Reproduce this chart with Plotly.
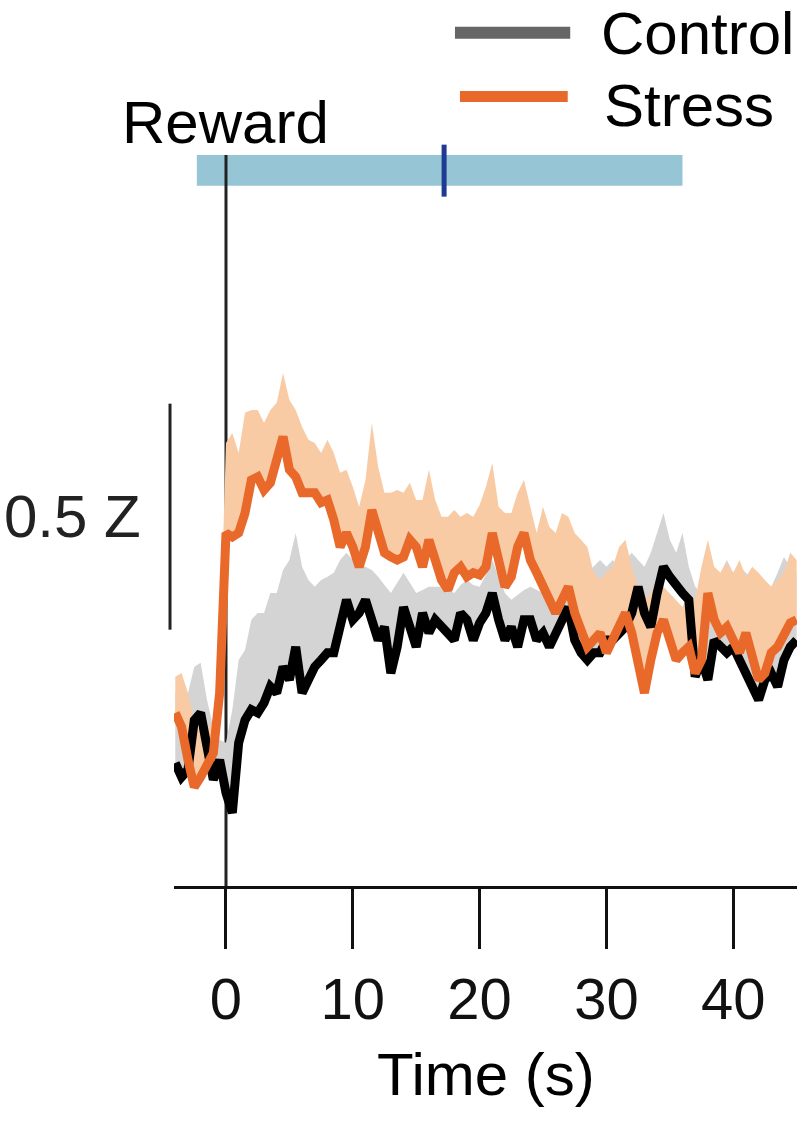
import plotly.graph_objects as go

# ---- data (Z-scored photometry signal) ----
time_s = [-4 + 0.5 * i for i in range(99)]

stress_mean = [0.104, 0.073, 0.000, -0.060, -0.038, -0.015, 0.015, 0.148, 0.502, 0.493,
               0.502, 0.546, 0.619, 0.626, 0.597, 0.613, 0.664, 0.715, 0.642, 0.626,
               0.591, 0.591, 0.591, 0.569, 0.575, 0.531, 0.471, 0.502, 0.471, 0.427,
               0.471, 0.553, 0.502, 0.458, 0.449, 0.442, 0.449, 0.487, 0.471, 0.427,
               0.487, 0.442, 0.398, 0.376, 0.414, 0.427, 0.405, 0.414, 0.409, 0.427,
               0.502, 0.442, 0.383, 0.405, 0.471, 0.502, 0.442, 0.414, 0.383, 0.354,
               0.325, 0.354, 0.383, 0.325, 0.281, 0.250, 0.265, 0.281, 0.237, 0.265,
               0.294, 0.325, 0.281, 0.221, 0.148, 0.221, 0.281, 0.310, 0.259, 0.221,
               0.237, 0.250, 0.192, 0.221, 0.369, 0.310, 0.281, 0.294, 0.265, 0.237,
               0.281, 0.221, 0.177, 0.192, 0.237, 0.250, 0.272, 0.303, 0.310]

stress_upper = [0.184, 0.192, 0.148, 0.088, 0.060, 0.066, 0.088, 0.221, 0.701, 0.723,
                0.679, 0.768, 0.774, 0.774, 0.746, 0.774, 0.790, 0.856, 0.796, 0.774,
                0.737, 0.708, 0.701, 0.679, 0.708, 0.679, 0.635, 0.642, 0.604, 0.560,
                0.619, 0.746, 0.648, 0.591, 0.591, 0.597, 0.591, 0.613, 0.575, 0.575,
                0.642, 0.575, 0.538, 0.538, 0.553, 0.538, 0.546, 0.538, 0.564, 0.604,
                0.657, 0.560, 0.546, 0.546, 0.591, 0.619, 0.560, 0.502, 0.560, 0.515,
                0.502, 0.546, 0.538, 0.502, 0.487, 0.471, 0.414, 0.398, 0.414, 0.427,
                0.471, 0.487, 0.427, 0.383, 0.354, 0.369, 0.398, 0.383, 0.369, 0.354,
                0.338, 0.369, 0.354, 0.427, 0.487, 0.427, 0.414, 0.436, 0.414, 0.442,
                0.405, 0.427, 0.414, 0.398, 0.383, 0.398, 0.414, 0.458, 0.442]

control_mean = [-0.007, -0.038, -0.022, 0.088, 0.104, 0.015, -0.044, 0.000, -0.073, -0.117,
                0.038, 0.088, 0.111, 0.104, 0.126, 0.162, 0.148, 0.206, 0.177, 0.250,
                0.148, 0.177, 0.206, 0.221, 0.237, 0.237, 0.294, 0.354, 0.310, 0.325,
                0.354, 0.310, 0.265, 0.294, 0.192, 0.250, 0.338, 0.294, 0.250, 0.325,
                0.281, 0.310, 0.294, 0.281, 0.265, 0.325, 0.310, 0.265, 0.303, 0.325,
                0.369, 0.310, 0.265, 0.294, 0.250, 0.310, 0.310, 0.265, 0.281, 0.250,
                0.281, 0.310, 0.338, 0.265, 0.237, 0.221, 0.237, 0.237, 0.265, 0.265,
                0.281, 0.294, 0.325, 0.383, 0.325, 0.294, 0.369, 0.427, 0.405, 0.383,
                0.369, 0.354, 0.184, 0.221, 0.177, 0.265, 0.250, 0.237, 0.250, 0.221,
                0.192, 0.162, 0.133, 0.177, 0.192, 0.162, 0.221, 0.250, 0.265]

control_upper = [0.148, 0.148, 0.148, 0.206, 0.215, 0.133, 0.073, 0.044, 0.038, 0.111,
                 0.221, 0.243, 0.310, 0.325, 0.325, 0.369, 0.369, 0.420, 0.442, 0.502,
                 0.427, 0.398, 0.383, 0.398, 0.405, 0.414, 0.442, 0.458, 0.442, 0.431,
                 0.427, 0.420, 0.405, 0.387, 0.369, 0.392, 0.414, 0.392, 0.369, 0.376,
                 0.383, 0.383, 0.383, 0.376, 0.369, 0.387, 0.398, 0.387, 0.383, 0.409,
                 0.442, 0.405, 0.369, 0.354, 0.365, 0.376, 0.383, 0.376, 0.369, 0.365,
                 0.369, 0.392, 0.414, 0.387, 0.369, 0.414, 0.427, 0.442, 0.427, 0.442,
                 0.427, 0.442, 0.458, 0.442, 0.427, 0.458, 0.502, 0.546, 0.487, 0.458,
                 0.502, 0.427, 0.383, 0.369, 0.354, 0.369, 0.414, 0.442, 0.414, 0.427,
                 0.414, 0.398, 0.414, 0.383, 0.383, 0.414, 0.449, 0.427, 0.414]

x_ticks = [0, 10, 20, 30, 40]
x_range = [-4.1, 45.03]
y_range = [-0.279, 1.681]

reward_time = 0
cue_window = [-2.3, 36.0]      # light-blue bar
cue_marker = 17.2             # dark-blue tick on the bar
bar_y = [1.270, 1.338]
scale_bar = [0.288, 0.788]    # 0.5 Z

FONT = "Liberation Sans, Arial, Helvetica, sans-serif"
FS = 60
ORANGE = "#E8692A"
LIGHT_ORANGE = "#F9CBA5"
GRAY_FILL = "#D4D4D4"

fig = go.Figure()
# shaded SEM (upper side only)
fig.add_trace(go.Scatter(x=time_s, y=control_mean, mode="lines", line=dict(width=0),
                         showlegend=False, hoverinfo="skip"))
fig.add_trace(go.Scatter(x=time_s, y=control_upper, mode="lines", line=dict(width=0),
                         fill="tonexty", fillcolor=GRAY_FILL, showlegend=False, hoverinfo="skip"))
fig.add_trace(go.Scatter(x=time_s, y=stress_mean, mode="lines", line=dict(width=0),
                         showlegend=False, hoverinfo="skip"))
fig.add_trace(go.Scatter(x=time_s, y=stress_upper, mode="lines", line=dict(width=0),
                         fill="tonexty", fillcolor=LIGHT_ORANGE, showlegend=False, hoverinfo="skip"))
# means
fig.add_trace(go.Scatter(x=time_s, y=control_mean, mode="lines", name="Control",
                         line=dict(color="black", width=9), showlegend=False))
fig.add_trace(go.Scatter(x=time_s, y=stress_mean, mode="lines", name="Stress",
                         line=dict(color=ORANGE, width=9), showlegend=False))

shapes = [
    dict(type="rect", xref="x", yref="y", x0=cue_window[0], x1=cue_window[1],
         y0=bar_y[0], y1=bar_y[1], fillcolor="#96C6D6", line=dict(width=0), layer="below"),
    dict(type="line", xref="x", yref="y", x0=reward_time, x1=reward_time,
         y0=y_range[0], y1=bar_y[1], line=dict(color="#222222", width=3), layer="below"),
    dict(type="line", xref="x", yref="y", x0=cue_marker, x1=cue_marker,
         y0=bar_y[0] - 0.024, y1=bar_y[1] + 0.023, line=dict(color="#1F3A93", width=5)),
    dict(type="line", xref="paper", yref="y", x0=-0.0064, x1=-0.0064,
         y0=scale_bar[0], y1=scale_bar[1], line=dict(color="#222222", width=3)),
    # legend samples
    dict(type="line", xref="paper", yref="paper", x0=0.451, x1=0.636, y0=0.963, y1=0.963,
         line=dict(color="#666666", width=12)),
    dict(type="line", xref="paper", yref="paper", x0=0.459, x1=0.632, y0=0.891, y1=0.891,
         line=dict(color=ORANGE, width=11)),
]

annotations = [
    dict(text="Reward", x=reward_time, xref="x", y=(760 - 123) / 452, yref="y",
         showarrow=False, xanchor="center", yanchor="middle",
         font=dict(family=FONT, size=FS, color="black")),
    dict(text="0.5 Z", x=-0.0498, xref="paper", y=0.538, yref="y",
         showarrow=False, xanchor="right", yanchor="middle",
         font=dict(family=FONT, size=FS, color="#222222")),
    dict(text="Control", x=0.682, xref="paper", y=0.962, yref="paper",
         showarrow=False, xanchor="left", yanchor="middle",
         font=dict(family=FONT, size=FS, color="black")),
    dict(text="Stress", x=0.687, xref="paper", y=0.881, yref="paper",
         showarrow=False, xanchor="left", yanchor="middle",
         font=dict(family=FONT, size=FS, color="black")),
    dict(text="Time (s)", x=0.5, xref="paper", y=-0.213, yref="paper",
         showarrow=False, xanchor="center", yanchor="middle",
         font=dict(family=FONT, size=FS, color="black")),
]

fig.update_layout(
    width=800, height=1123,
    margin=dict(l=174, r=3, t=0, b=237, pad=0),
    plot_bgcolor="white", paper_bgcolor="white",
    shapes=shapes, annotations=annotations,
    xaxis=dict(range=x_range, tickvals=x_ticks, ticks="outside", ticklen=60, tickwidth=3,
               tickcolor="#111111", showline=True, linewidth=3, linecolor="#111111",
               showgrid=False, zeroline=False, automargin=False,
               tickfont=dict(family=FONT, size=58, color="#111111")),
    yaxis=dict(range=y_range, visible=False, showgrid=False, zeroline=False, automargin=False),
)

fig.write_html("out.html", config={"displayModeBar": False},
               post_script="document.body.style.margin='0px';")
